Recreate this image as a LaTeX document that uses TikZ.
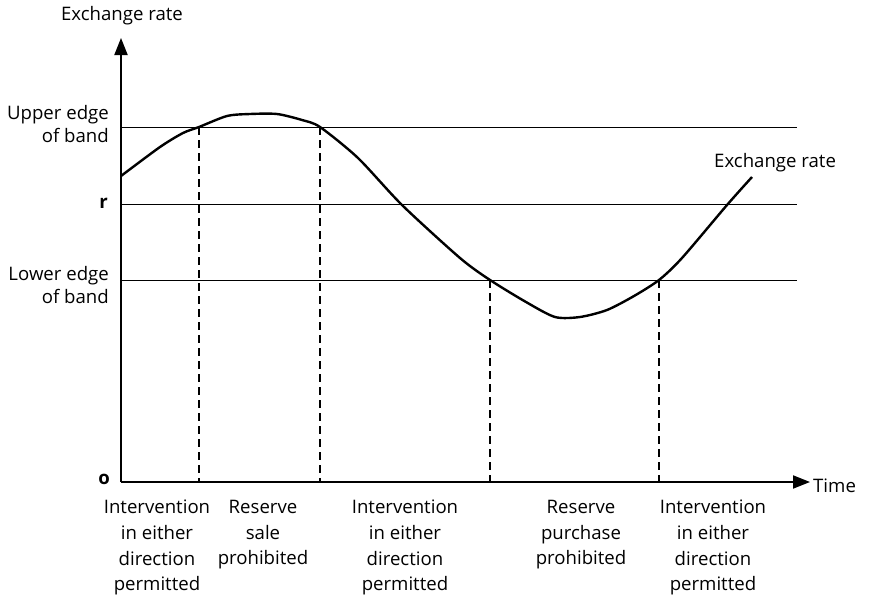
\documentclass[tikz,border=0pt]{standalone}
\usepackage{fontspec}
\setmainfont{Open Sans}
\usetikzlibrary{arrows.meta}
\begin{document}
\begin{tikzpicture}[x=1pt,y=-1pt,
  lbl/.style={font=\fontsize{18.6}{25.6}\selectfont, inner sep=0pt},
  sidelbl/.style={font=\fontsize{18.6}{23.5}\selectfont, inner sep=0pt, align=right, anchor=east},
  mark lbl/.style={font=\fontsize{18.6}{23}\selectfont\bfseries, inner sep=0pt, anchor=east},
  axis/.style={line width=2pt, -{Triangle[length=17pt,width=13pt]}},
  bandline/.style={line width=0.9pt},
  guide/.style={line width=1.4pt, dash pattern=on 8pt off 5pt},
  rate/.style={line width=2.4pt, line join=round}]
\useasboundingbox (0,0) rectangle (869,595);
% axes
\coordinate (O) at (121,482);
\coordinate (Ytop) at (121,38);
\coordinate (Xend) at (810,482);
\draw[axis] (O) -- (Ytop);
\draw[axis] (O) -- (Xend);
% band lines
\coordinate (U0) at (121,127); \coordinate (U1) at (797,127);
\coordinate (R0) at (121,204); \coordinate (R1) at (797,204);
\coordinate (L0) at (121,280); \coordinate (L1) at (797,280);
\draw[bandline] (U0) -- (U1);
\draw[bandline] (R0) -- (R1);
\draw[bandline] (L0) -- (L1);
% crossing points and dashed guides
\coordinate (c1) at (199,127); \coordinate (c2) at (320,127);
\coordinate (c3) at (490,280); \coordinate (c4) at (659,280);
\foreach \c in {c1,c2,c3,c4} \draw[guide] (\c) -- (\c |- O);
% exchange rate curve
\draw[rate] plot[smooth, tension=0.45] coordinates {
  (121,176) (160,147) (183,133) (199,127) (227,116) (250,114) (277,114)
  (302,120) (320,127) (358,158) (402,205) (460,258) (490,280) (526,302)
  (555,317) (580,317) (607,310) (634,296) (659,280) (682,258) (727,205) (752,177)};
% labels
\node[lbl] (ylab) at (122,16) {Exchange rate};
\node[lbl, anchor=west] (xlab) at (813,486) {Time};
\node[lbl, anchor=west] (clab) at (714,163) {Exchange rate};
\node[sidelbl] (ulab) at (109,124) {Upper edge\\of band};
\node[sidelbl] (llab) at (109,285) {Lower edge\\of band};
\node[mark lbl] (rlab) at (108,203) {r};
\node[mark lbl] (olab) at (110,479) {o};
\node[lbl, align=center, anchor=north] (b1) at (157,500) {Intervention\\in either\\direction\\permitted};
\node[lbl, align=center, anchor=north] (b2) at (263,500) {Reserve\\sale\\prohibited};
\node[lbl, align=center, anchor=north] (b3) at (405,500) {Intervention\\in either\\direction\\permitted};
\node[lbl, align=center, anchor=north] (b4) at (581,500) {Reserve\\purchase\\prohibited};
\node[lbl, align=center, anchor=north] (b5) at (713,500) {Intervention\\in either\\direction\\permitted};
\end{tikzpicture}
\end{document}
